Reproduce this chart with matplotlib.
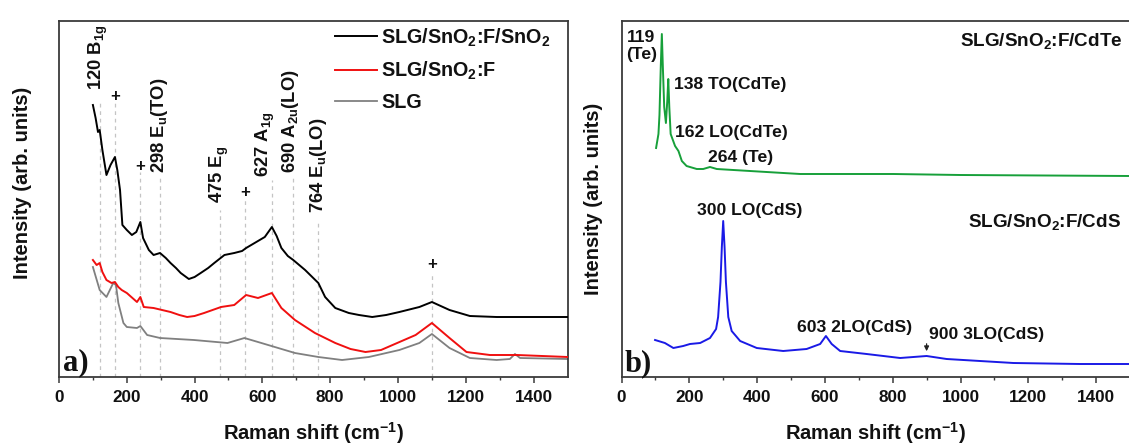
import matplotlib
matplotlib.use("Agg")
import matplotlib.pyplot as plt
import numpy as np

# ---------------- data ----------------
# Panel a) : Raman shift (cm^-1) and intensity (arb. units)
black_x = [100, 108, 115, 120, 128, 140, 152, 165, 172, 180, 187, 200, 215, 228, 240, 248, 265, 279,
           298, 315, 329, 345, 359, 383, 400, 418, 440, 458, 488, 517, 540, 552, 577, 607, 628, 642,
           656, 675, 691, 726, 765, 785, 815, 855, 885, 924, 965, 1004, 1063, 1100, 1152, 1212, 1291,
           1370, 1500]
black_y = [272, 259, 245, 247, 227, 202, 212, 220, 207, 187, 152, 147, 142, 145, 155, 139, 127, 122,
           124, 119, 114, 109, 104, 98, 100, 104, 109, 114, 122, 124, 126, 129, 134, 140, 150, 141,
           129, 121, 117, 107, 94, 80, 69, 64, 62, 60, 62, 65, 70, 75, 67, 61, 60,
           60, 60]

red_x = [100, 111, 120, 128, 140, 155, 165, 175, 185, 200, 230, 240, 250, 279, 329, 355, 378, 400,
         428, 478, 517, 552, 587, 628, 656, 696, 755, 815, 860, 904, 950, 984, 1052, 1100, 1152, 1202,
         1271, 1351, 1500]
red_y = [117, 112, 114, 105, 97, 94, 95, 90, 87, 84, 75, 80, 70, 69, 65, 62, 60, 61,
         64, 70, 72, 82, 79, 84, 69, 57, 44, 34, 28, 25, 27, 32, 42, 54, 39, 25,
         22, 22, 20]

gray_x = [100, 120, 140, 160, 168, 175, 190, 200, 230, 240, 260, 298, 398, 497, 547, 597, 696, 765,
          835, 914, 1004, 1063, 1100, 1152, 1212, 1291, 1330, 1345, 1360, 1500]
gray_y = [110, 87, 80, 94, 92, 74, 54, 50, 49, 51, 42, 39, 37, 34, 39, 34, 24, 20,
          17, 20, 27, 34, 43, 29, 19, 17, 18, 23, 19, 18]

legend_labels = ['SLG/SnO$_2$:F/SnO$_2$', 'SLG/SnO$_2$:F', 'SLG']

# assigned modes (panel a)
mode_pos = [120, 298, 475, 627, 690, 764]
mode_labels = ['120 B$_{1g}$', '298 E$_u$(TO)', '475 E$_g$', '627 A$_{1g}$',
               '690 A$_{2u}$(LO)', '764 E$_u$(LO)']
mode_label_x = [117, 297, 472, 610, 682, 766]
mode_label_y = [287, 204, 174, 200, 204, 164]
mode_line_top = [277, 199, 167, 197, 199, 157]
# '+' marked (substrate) bands
plus_pos = [165, 240, 550, 1100]
plus_y = [280, 211, 184, 112]
plus_line_top = [274, 205, 177, 105]

# Panel b)
green_x = [102, 109, 112, 116, 119, 122, 126, 131, 135, 138, 141, 145, 158, 168, 178, 192, 222, 241,
           261, 281, 330, 428, 527, 625, 802, 1000, 1500]
green_y = [229, 243, 262, 312, 343, 310, 270, 254, 276, 298, 270, 243, 231, 226, 216, 211, 208, 208,
           210, 208, 207, 205, 203, 203, 203, 202, 201]

blue_x = [99, 128, 153, 182, 202, 232, 261, 279, 285, 292, 296, 300, 304, 308, 315, 325, 350, 399,
          477, 546, 586, 603, 620, 645, 723, 822, 900, 959, 1156, 1352, 1500]
blue_y = [37, 34, 29, 31, 33, 34, 39, 48, 60, 95, 130, 156, 130, 95, 60, 46, 36, 29,
          26, 28, 33, 41, 33, 26, 23, 19, 21, 18, 14, 13, 13]

# ---------------- style ----------------
plt.rcParams['font.family'] = ['Liberation Sans', 'DejaVu Sans']
plt.rcParams['font.weight'] = 'bold'
plt.rcParams['mathtext.fontset'] = 'custom'
plt.rcParams['mathtext.rm'] = 'Liberation Sans:bold'
plt.rcParams['mathtext.it'] = 'Liberation Sans:bold'
plt.rcParams['mathtext.bf'] = 'Liberation Sans:bold'
plt.rcParams['mathtext.sf'] = 'Liberation Sans:bold'
plt.rcParams['mathtext.default'] = 'rm'

W, H = 1129, 445
fig = plt.figure(figsize=(W / 100, H / 100), dpi=100)

def px_axes(x0, x1, ytop, ybot):
    return fig.add_axes([x0 / W, (H - ybot) / H, (x1 - x0) / W, (ybot - ytop) / H])

axa = px_axes(59, 567.5, 21, 377)
axb = px_axes(621.5, 1130, 21, 377)

spine_col = '#3a3a3a'
for ax in (axa, axb):
    ax.set_xlim(0, 1500)
    ax.set_ylim(0, 356)
    ax.set_yticks([])
    ax.set_xticks(np.arange(0, 1500, 200))
    ax.set_xticks(np.arange(100, 1500, 200), minor=True)
    ax.tick_params(axis='x', which='major', direction='out', length=4, width=1.1,
                   labelsize=12.3, pad=5.5, colors=spine_col, labelcolor='#111111')
    ax.tick_params(axis='x', which='minor', direction='out', length=2.5, width=1.0, colors=spine_col)
    for s in ax.spines.values():
        s.set_color(spine_col)
        s.set_linewidth(1.3)
    ax.set_xlabel('Raman shift (cm$^{-1}$)', fontsize=14.5, fontweight='bold', color='#111111')
    ax.xaxis.set_label_coords(0.5, -0.122)
    ax.set_ylabel('Intensity (arb. units)', fontsize=14.5, fontweight='bold', color='#111111')

axa.yaxis.set_label_coords(-0.053, 0.545)
axb.yaxis.set_label_coords(-0.037, 0.5)

# ---- panel a ----
guide = dict(color='#c4c4c4', lw=0.9, ls=(0, (3, 3)), zorder=1)
for xp, top in zip(mode_pos, mode_line_top):
    axa.plot([xp, xp], [0, top], **guide)
for xp, top in zip(plus_pos, plus_line_top):
    axa.plot([xp, xp], [0, top], **guide)

axa.plot(black_x, black_y, color='#000000', lw=1.4, label=legend_labels[0], zorder=3)
axa.plot(red_x, red_y, color='#f01010', lw=1.4, label=legend_labels[1], zorder=3)
axa.plot(gray_x, gray_y, color='#808080', lw=1.3, label=legend_labels[2], zorder=2)

for lx, ly, lab in zip(mode_label_x, mode_label_y, mode_labels):
    axa.text(lx, ly, lab, rotation=90, ha='center', va='bottom', fontsize=13.2,
             fontweight='bold', color='#111111')
for xp, yp in zip(plus_pos, plus_y):
    axa.text(xp, yp, '+', ha='center', va='center', fontsize=12, fontweight='bold', color='#111111')

leg = axa.legend(loc='upper left', bbox_to_anchor=(0.543, 0.985), frameon=False, fontsize=14.2,
                 handlelength=2.1, handletextpad=0.25, labelspacing=0.55, borderpad=0,
                 borderaxespad=0)
for t in leg.get_texts():
    t.set_color('#111111')

axa.text(12, 7, 'a)', fontsize=22, fontweight='bold', family=['Liberation Serif', 'DejaVu Serif'],
         ha='left', va='baseline', color='#111111')

# ---- panel b ----
axb.plot(green_x, green_y, color='#17a03a', lw=1.4, zorder=3)
axb.plot(blue_x, blue_y, color='#1a1ae6', lw=1.4, zorder=3)

tb = dict(fontsize=12.6, fontweight='bold', color='#111111')
tbig = dict(fontsize=13.6, fontweight='bold', color='#111111')
axb.text(15, 335, '119', ha='left', va='baseline', **tb)
axb.text(15, 318, '(Te)', ha='left', va='baseline', **tb)
axb.text(155, 288.5, '138 TO(CdTe)', ha='left', va='baseline', **tb)
axb.text(158, 240, '162 LO(CdTe)', ha='left', va='baseline', **tb)
axb.text(254, 215, '264 (Te)', ha='left', va='baseline', **tb)
axb.text(1479, 331, 'SLG/SnO$_2$:F/CdTe', ha='right', va='baseline', **tbig)
axb.text(378, 161.7, '300 LO(CdS)', ha='center', va='baseline', **tb)
axb.text(688, 45, '603 2LO(CdS)', ha='center', va='baseline', **tb)
axb.text(1473, 150, 'SLG/SnO$_2$:F/CdS', ha='right', va='baseline', **tbig)
axb.text(908, 38, '900 3LO(CdS)', ha='left', va='baseline', **tb)
axb.annotate('', xy=(900, 23), xytext=(900, 36),
             arrowprops=dict(arrowstyle='-|>', color='#222222', lw=0.9, mutation_scale=7))

axb.text(10, 6, 'b)', fontsize=22, fontweight='bold', family=['Liberation Serif', 'DejaVu Serif'],
         ha='left', va='baseline', color='#111111')

fig.savefig('out.png', dpi=100)
